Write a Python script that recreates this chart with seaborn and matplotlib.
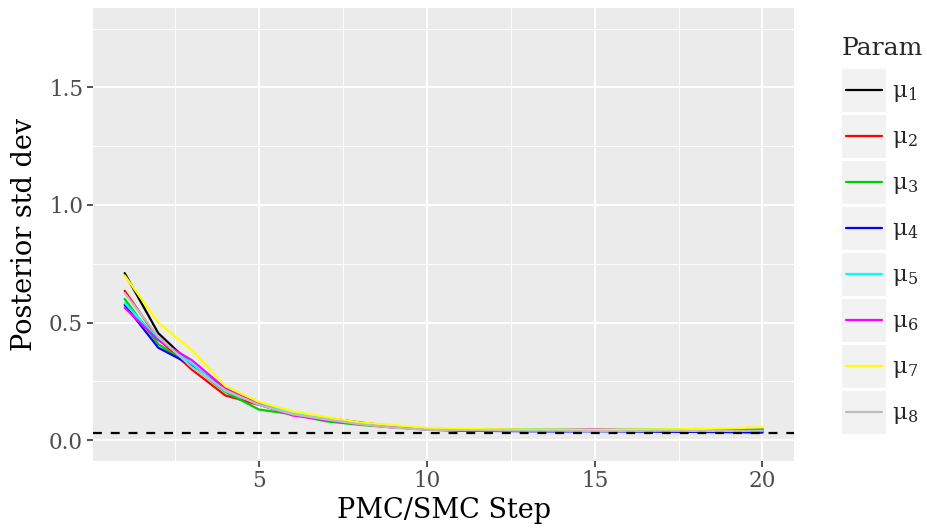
import numpy as np
import pandas as pd
import matplotlib
matplotlib.use("Agg")
import matplotlib.pyplot as plt
from matplotlib.legend_handler import HandlerBase
from matplotlib.patches import Rectangle
from matplotlib.lines import Line2D
from matplotlib.ticker import MultipleLocator
import seaborn as sns

steps = list(range(1, 21))

mu1 = [0.710, 0.455, 0.320, 0.210, 0.155, 0.115, 0.095, 0.075, 0.060, 0.048, 0.044, 0.043, 0.042, 0.041, 0.040, 0.039, 0.038, 0.037, 0.036, 0.035]
mu2 = [0.635, 0.430, 0.300, 0.190, 0.150, 0.112, 0.090, 0.070, 0.055, 0.046, 0.043, 0.042, 0.041, 0.043, 0.042, 0.041, 0.042, 0.043, 0.044, 0.043]
mu3 = [0.600, 0.408, 0.315, 0.205, 0.130, 0.110, 0.080, 0.065, 0.054, 0.047, 0.045, 0.044, 0.045, 0.046, 0.045, 0.044, 0.046, 0.047, 0.046, 0.048]
mu4 = [0.575, 0.393, 0.318, 0.215, 0.152, 0.118, 0.092, 0.072, 0.056, 0.045, 0.040, 0.039, 0.038, 0.037, 0.038, 0.037, 0.036, 0.035, 0.034, 0.032]
mu5 = [0.583, 0.430, 0.325, 0.208, 0.155, 0.116, 0.090, 0.072, 0.057, 0.048, 0.046, 0.045, 0.046, 0.047, 0.046, 0.045, 0.046, 0.045, 0.044, 0.045]
mu6 = [0.563, 0.425, 0.340, 0.220, 0.152, 0.105, 0.085, 0.068, 0.054, 0.047, 0.045, 0.044, 0.043, 0.044, 0.046, 0.044, 0.043, 0.042, 0.043, 0.044]
mu7 = [0.700, 0.500, 0.383, 0.230, 0.163, 0.122, 0.098, 0.075, 0.064, 0.052, 0.048, 0.046, 0.045, 0.045, 0.044, 0.045, 0.046, 0.047, 0.050, 0.055]
mu8 = [0.625, 0.440, 0.310, 0.212, 0.150, 0.110, 0.088, 0.068, 0.053, 0.044, 0.042, 0.041, 0.040, 0.040, 0.039, 0.039, 0.040, 0.039, 0.039, 0.040]

series = [mu1, mu2, mu3, mu4, mu5, mu6, mu7, mu8]
params = ["mu1", "mu2", "mu3", "mu4", "mu5", "mu6", "mu7", "mu8"]
labels = ["μ$_\\mathregular{%d}$" % (i + 1) for i in range(len(params))]
colors = ["#000000", "#FF0000", "#00CD00", "#0000FF", "#00FFFF", "#FF00FF", "#FFFF00", "#BEBEBE"]
target_sd = 0.03

df = pd.DataFrame({
    "Step": steps * len(series),
    "sd": np.concatenate(series),
    "Param": np.repeat(params, len(steps)),
})

sns.set_theme(style="darkgrid")
plt.rcParams["font.family"] = ["DejaVu Serif"]
plt.rcParams["mathtext.fontset"] = "dejavuserif"

fig = plt.figure(figsize=(9.28, 5.32), dpi=100)
ax = fig.add_axes([0.100, 0.134, 0.756, 0.851])
ax.set_facecolor("#EBEBEB")

sns.lineplot(data=df, x="Step", y="sd", hue="Param", palette=dict(zip(params, colors)),
             linewidth=1.6, ax=ax, legend=False, sort=True)
ax.axhline(target_sd, color="black", linestyle=(0, (4, 4)), linewidth=1.6)

ax.set_xlim(0.05, 20.95)
ax.set_ylim(-0.0875, 1.8375)
ax.xaxis.set_minor_locator(MultipleLocator(2.5))
ax.yaxis.set_minor_locator(MultipleLocator(0.25))
ax.set_xticks([5, 10, 15, 20])
ax.set_xticklabels(["5", "10", "15", "20"])
ax.set_yticks([0.0, 0.5, 1.0, 1.5])
ax.set_yticklabels(["0.0", "0.5", "1.0", "1.5"])
ax.grid(which="major", color="white", linewidth=1.4)
ax.grid(which="minor", color="white", linewidth=0.7)
ax.set_axisbelow(True)
for s in ax.spines.values():
    s.set_visible(False)
ax.tick_params(which="major", length=4, width=1.2, color="#333333",
               labelsize=15.5, labelcolor="#4D4D4D", pad=3, bottom=True, left=True)
ax.tick_params(which="minor", length=0)
ax.set_xlabel("PMC/SMC Step", fontsize=19.5, color="black", labelpad=3)
ax.set_ylabel("Posterior std dev", fontsize=19.5, color="black", labelpad=8)


class KeyHandler(HandlerBase):
    """Legend key: light grey square with a short horizontal line."""

    def create_artists(self, legend, orig_handle, xdescent, ydescent, width, height, fontsize, trans):
        bg = Rectangle((-xdescent, -ydescent), width, height,
                       facecolor="#F2F2F2", edgecolor="none", transform=trans)
        inset = 0.09 * width
        ymid = -ydescent + height / 2
        line = Line2D([-xdescent + inset, -xdescent + width - inset], [ymid, ymid],
                      color=orig_handle.get_color(), linewidth=orig_handle.get_linewidth(),
                      transform=trans)
        return [bg, line]


handles = [Line2D([], [], color=c, linewidth=1.6) for c in colors]
leg_fs = 16.5
px_per_fs = leg_fs * 100 / 72
key_px = 43
# matplotlib trims 0.35 * fontsize * (handleheight - 0.7) from the handle box height
key_h = (key_px / px_per_fs - 0.245) / 0.65
leg = fig.legend(handles, labels, title="Param", loc="upper left", bbox_to_anchor=(0.907, 0.9306),
                 frameon=False, fontsize=leg_fs, title_fontsize=18,
                 handlelength=44 / px_per_fs, handleheight=key_h,
                 handletextpad=6 / px_per_fs, labelspacing=3 / px_per_fs, borderpad=0.0,
                 borderaxespad=0.0, handler_map={Line2D: KeyHandler()})
leg._legend_box.align = "left"
# wider gap between the title and the keys (points)
leg._legend_box.sep = 9 * 72 / 100

fig.savefig("out.png", dpi=100, facecolor="white")
